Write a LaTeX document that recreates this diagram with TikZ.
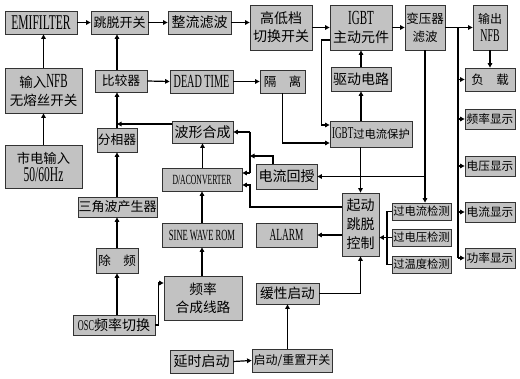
\documentclass[tikz,border=0pt]{standalone}
\usepackage{fontspec}
\setmainfont{Liberation Serif}[FakeStretch=0.55]
\newfontfamily\cjk{Noto Sans CJK SC}
\usetikzlibrary{arrows.meta}
\newcommand\fsz[2]{\fontsize{#1}{#2}\selectfont}
\newcommand\lat[2]{{\rmfamily\fontsize{#1}{#1}\selectfont #2}}
\tikzset{
  blk/.style={draw=black!80, line width=0.8pt, fill=black!24, inner sep=0pt, align=center},
  arr/.style={line width=1.2pt, -{Triangle[length=4.5pt,width=4.5pt]}},
  ln/.style={line width=1.2pt},
  bx/.style 2 args={blk, minimum width=#1pt, minimum height=#2pt},
}
\begin{document}
\begin{tikzpicture}[x=1pt,y=-1pt]
\fill[white] (0,0) rectangle (520,379);
\useasboundingbox (0,0) rectangle (520,379);
% top row
\node[bx={72}{23}, font=\fsz{21}{22}] (emi) at (41,22.5) {EMIFILTER};
\node[bx={57}{23}, font=\cjk\fsz{13}{15}] (tiaotuo) at (119.5,22.5) {跳脱开关};
\node[bx={63}{23}, font=\cjk\fsz{14}{16}] (zhengliu) at (199.5,22.5) {整流滤波};
\node[bx={62}{45}, font=\cjk\fsz{14}{18}] (gaodi) at (281,27.5) {高低档\\切换开关};
\node[bx={62}{45}, font=\cjk\fsz{14}{18}] (igbt) at (361,27.5) {\lat{20}{IGBT}\\主动元件};
\node[bx={40}{45}, font=\cjk\fsz{12.5}{18}] (bianya) at (425,27.5) {变压器\\滤波};
\node[bx={34}{45}, font=\cjk\fsz{12}{18}] (nfbout) at (490,27.5) {输出\\\lat{18}{NFB}};
% displays
\node[bx={50}{23}, font=\cjk\fsz{12.5}{15}] (fuzai) at (490,79.5) {负\quad 载};
\node[bx={50}{20}, font=\cjk\fsz{11.7}{14}] (pinlv) at (490,119) {频率显示};
\node[bx={50}{20}, font=\cjk\fsz{11.7}{14}] (dianya) at (490,166) {电压显示};
\node[bx={50}{20}, font=\cjk\fsz{11.7}{14}] (dianliu) at (490,212) {电流显示};
\node[bx={50}{20}, font=\cjk\fsz{11.7}{14}] (gonglv) at (490,258) {功率显示};
% left column
\node[bx={77}{45}, font=\cjk\fsz{13.5}{18}] (nfbin) at (43.5,90.5) {输入\lat{20}{NFB}\\无熔丝开关};
\node[bx={77}{43}, font=\cjk\fsz{13.3}{18}] (shidian) at (43.5,166.5) {市电输入\\\lat{21}{50/60Hz}};
% middle
\node[bx={52}{22}, font=\cjk\fsz{12.8}{15}] (bijiao) at (121,81) {比较器};
\node[bx={63}{23}, font=\fsz{18.5}{20}] (deadtime) at (201.5,81.5) {DEAD TIME};
\node[bx={45}{23}, font=\cjk\fsz{12.5}{15}] (geli) at (282.5,81.5) {隔\quad 离};
\node[bx={60}{24}, font=\cjk\fsz{14}{16}] (qudong) at (361,79) {驱动电路};
\node[bx={82}{26}, font=\cjk\fsz{11.3}{14}] (igbtbh) at (371,134) {\lat{16.5}{IGBT}过电流保护};
\node[bx={40}{24}, font=\cjk\fsz{12.8}{15}] (fenxiang) at (117,140) {分相器};
\node[bx={61}{22}, font=\cjk\fsz{14}{16}] (boxing) at (202.5,132) {波形合成};
\node[bx={80}{23}, font=\fsz{14}{15}] (da) at (202,179.5) {D/ACONVERTER};
\node[bx={61}{25}, font=\cjk\fsz{14}{16}] (huishou) at (286.5,176.5) {电流回授};
\node[bx={37}{63}, font=\cjk\fsz{14}{19}] (qidong) at (360.5,224.5) {起动\\跳脱\\控制};
\node[bx={61}{24}, font=\fsz{17}{18}] (alarm) at (286.5,235) {ALARM};
\node[bx={59}{17}, font=\cjk\fsz{11.3}{13}] (guoliu) at (421.5,211.5) {过电流检测};
\node[bx={59}{17}, font=\cjk\fsz{11.3}{13}] (guoya) at (421.5,237.5) {过电压检测};
\node[bx={59}{17}, font=\cjk\fsz{11.3}{13}] (guowen) at (421.5,264.5) {过温度检测};
\node[bx={79}{20}, font=\cjk\fsz{13}{15}] (sanjiao) at (117.5,207) {三角波产生器};
\node[bx={80}{24}, font=\fsz{15.5}{17}] (sine) at (202,235) {SINE WAVE ROM};
\node[bx={42}{25}, font=\cjk\fsz{12.5}{15}] (chupin) at (117,260.5) {除\quad 频};
\node[bx={78}{44}, font=\cjk\fsz{13.7}{18}] (hecheng) at (203,298) {频率\\合成线路};
\node[bx={82}{20}, font=\cjk\fsz{14}{16}] (osc) at (114,325) {\lat{15}{OSC}频率切换};
\node[bx={63}{23}, font=\cjk\fsz{14}{16}] (yanshi) at (201.5,361.5) {延时启动};
\node[bx={80}{23}, font=\cjk\fsz{12}{14}] (chongzhi) at (292,360.5) {启动/重置开关};
\node[bx={63}{21}, font=\cjk\fsz{13.7}{16}] (huanxing) at (287.5,293.5) {缓性启动};
% top row connectors
\draw[arr] (emi.east) -- (tiaotuo.west);
\draw[arr] (tiaotuo.east) -- (zhengliu.west);
\draw[arr] (zhengliu.east) -- (zhengliu.east -| gaodi.west);
\draw[arr] (gaodi.east) -- (igbt.west);
\draw[arr] (igbt.east) -- (bianya.west);
\draw[arr] (bianya.east) -- (nfbout.west);
\draw[arr] (nfbout.south) -- (fuzai.north);
% output bus
\coordinate (busT) at (458,27.5);
\coordinate (busB) at (458,258);
\draw[ln] (busT) -- (busB);
\foreach \n in {fuzai,pinlv,dianya,dianliu,gonglv}
  \draw[arr] (\n.west -| busT) -- (\n.west);
% left column
\draw[arr] (shidian.north) -- (nfbin.south);
\draw[arr] (nfbin.north) -- (nfbin.north |- emi.south);
% comparator chain
\draw[arr] (fenxiang.north) -- (fenxiang.north |- bijiao.south);
\draw[arr] (bijiao.north -| fenxiang.north) -- (tiaotuo.south -| fenxiang.north);
\draw[arr] (bijiao.east) -- (deadtime.west);
\draw[arr] (deadtime.east) -- (geli.west);
\draw[arr] (geli.south) |- ([yshift=-9pt]igbtbh.west);
\draw[arr] ([yshift=-12.5pt]igbt.west) -- ++(-8,0) |- ([yshift=9pt]igbtbh.west);
\draw[arr] (igbtbh.north -| qudong.south) -- (qudong.south);
\draw[arr] (qudong.north) -- (qudong.north |- igbt.south);
\draw[arr] (igbtbh.south -| qidong.north) -- (qidong.north);
\draw[arr] ([yshift=8pt]boxing.west) -- ([yshift=8pt]boxing.west -| fenxiang.north);
% feedback
\coordinate (fbT) at (250,132);
\coordinate (fbB) at (250,173);
\coordinate (fbM) at (250,156);
\coordinate (dL) at (250,185);
\draw[ln] (fbT) -- (fbB);
\draw[arr] (fbT) -- (fbT -| boxing.east);
\draw[arr] (fbB) -- (fbB -| da.east);
\draw[arr] ([xshift=-13.5pt]huishou.north) |- (fbM);
\draw[arr] ([yshift=17.5pt]qidong.west) -| (dL) -- (dL -| da.east);
\draw[arr] (bianya.south) -- (bianya.south |- guoliu.north);
\draw[arr] (huishou.east -| bianya.south) -- (huishou.east);
% detection bracket
\coordinate (br) at (387,0);
\draw[ln] (guoliu.west) -- (guoliu.west -| br) -- (guowen.west -| br) -- (guowen.west);
\draw[ln] (guoya.west) -- (guoya.west -| br);
\draw[arr] (guoya.west -| br) -- (guoya.west -| qidong.east);
\draw[arr] (qidong.west |- alarm.east) -- (alarm.east);
% lower left
\draw[arr] (sanjiao.north -| fenxiang.south) -- (fenxiang.south);
\draw[arr] (chupin.north) -- (chupin.north |- sanjiao.south);
\draw[arr] (osc.north -| chupin.south) -- (chupin.south);
\draw[arr] (osc.east) -- ++(3,0) |- ([yshift=15pt]hecheng.west);
\draw[arr] (hecheng.north -| sine.south) -- (sine.south);
\draw[arr] (sine.north) -- (da.south);
\draw[arr] (da.north -| boxing.south) -- (boxing.south);
% start chain
\draw[arr] (yanshi.east) -- (chongzhi.west);
\draw[arr] (chongzhi.north -| huanxing.south) -- (huanxing.south);
\draw[arr] (huanxing.east) -| (qidong.south);
\end{tikzpicture}
\end{document}
